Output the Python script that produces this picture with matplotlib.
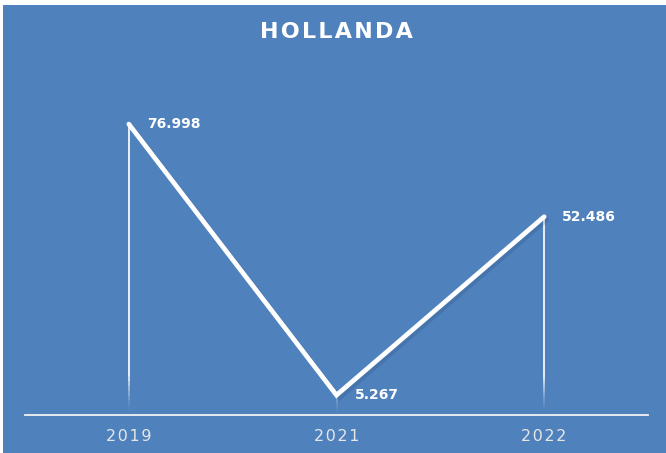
import matplotlib
matplotlib.use("Agg")
import matplotlib.pyplot as plt
import matplotlib.patheffects as pe
from matplotlib.collections import LineCollection
import numpy as np

years = ["2019", "2021", "2022"]
values = [76.998, 5.267, 52.486]
labels = ["76.998", "5.267", "52.486"]
title = "HOLLANDA"

bg = "#4F81BD"
W, H = 666, 453
fig = plt.figure(figsize=(W / 100, H / 100), dpi=100)
fig.patch.set_facecolor("white")
# blue chart area (small white margin on left/top)
fig.patches.append(plt.Rectangle((3 / W, 0), 1 - 3 / W, 1 - 5 / H,
                                 transform=fig.transFigure, facecolor=bg,
                                 edgecolor="none", zorder=-10))

ax = fig.add_axes([25 / W, 38 / H, 623 / W, 340 / H])
ax.set_facecolor("none")
ax.set_zorder(1)
x = np.arange(len(years))
ax.set_xlim(-0.5, len(years) - 0.5)
ax.set_ylim(0, 90)

# drop lines with fading bottom
segs, cols = [], []
for xi, v in zip(x, values):
    n = 60
    ys = np.linspace(0, v, n + 1)
    for i in range(n):
        segs.append([(xi, ys[i]), (xi, ys[i + 1])])
        frac = ys[i] / 10.0
        a = min(1.0, max(0.0, frac)) ** 1.5 * 0.95
        cols.append((1, 1, 1, a))
ax.add_collection(LineCollection(segs, colors=cols, linewidths=1.3, zorder=2))

ax.plot(x, values, color="white", lw=3.4, solid_capstyle="round",
        solid_joinstyle="miter", zorder=3,
        path_effects=[pe.SimpleLineShadow(offset=(2, -2), shadow_color="#1F3B63", alpha=0.18),
                      pe.Normal()])

for xi, v, t in zip(x, values, labels):
    ax.annotate(t, (xi, v), xytext=(13, 0), textcoords="offset points",
                ha="left", va="center", color="white", fontsize=10,
                fontweight="bold", zorder=4)

for s in ["top", "right", "left"]:
    ax.spines[s].set_visible(False)
ax.spines["bottom"].set_color("#F2F2F2")
ax.spines["bottom"].set_linewidth(1.3)
ax.set_yticks([])
ax.set_xticks(x)
ax.set_xticklabels(["\u200a".join(y) for y in years], color="#E6E6E6", fontsize=11.5)
ax.tick_params(axis="x", length=0, pad=10)

spaced_title = "\u200a".join(title)
fig.text(336 / W, 1 - 32 / H, spaced_title, ha="center", va="center", color="white",
         fontsize=16, fontweight="bold")

fig.savefig("out.png", dpi=100, facecolor=fig.get_facecolor())
